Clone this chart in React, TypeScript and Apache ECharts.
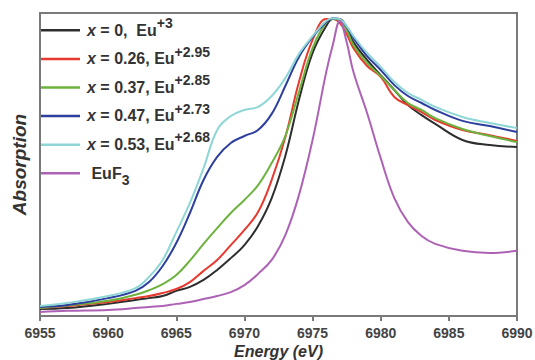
import React, { useEffect, useRef } from "react";
import * as echarts from "echarts";

const energies = [6955, 6957, 6960, 6962, 6963, 6964, 6965, 6966, 6967, 6968, 6969, 6970, 6971, 6972, 6973, 6974, 6975, 6976, 6976.5, 6977, 6977.5, 6978, 6979, 6980, 6981, 6982, 6983, 6984, 6986, 6988, 6990];

const blackVals = [0.023, 0.026, 0.040, 0.053, 0.059, 0.066, 0.083, 0.096, 0.119, 0.152, 0.191, 0.234, 0.297, 0.389, 0.528, 0.713, 0.868, 0.957, 0.980, 0.980, 0.950, 0.904, 0.845, 0.795, 0.746, 0.696, 0.663, 0.634, 0.581, 0.564, 0.558];
const redVals = [0.026, 0.033, 0.046, 0.059, 0.066, 0.076, 0.089, 0.112, 0.149, 0.185, 0.234, 0.284, 0.343, 0.449, 0.590, 0.772, 0.911, 0.980, 0.980, 0.967, 0.931, 0.884, 0.825, 0.789, 0.723, 0.696, 0.673, 0.647, 0.614, 0.597, 0.578];
const greenVals = [0.026, 0.035, 0.050, 0.070, 0.085, 0.105, 0.135, 0.183, 0.238, 0.290, 0.340, 0.383, 0.432, 0.505, 0.594, 0.739, 0.884, 0.970, 0.980, 0.977, 0.944, 0.894, 0.835, 0.792, 0.746, 0.703, 0.680, 0.653, 0.617, 0.594, 0.574];
const blueVals = [0.030, 0.036, 0.059, 0.083, 0.112, 0.165, 0.241, 0.340, 0.449, 0.525, 0.571, 0.594, 0.614, 0.667, 0.759, 0.855, 0.921, 0.970, 0.983, 0.980, 0.954, 0.917, 0.858, 0.812, 0.762, 0.726, 0.703, 0.680, 0.644, 0.627, 0.607];
const cyanVals = [0.033, 0.043, 0.066, 0.092, 0.129, 0.185, 0.277, 0.373, 0.488, 0.614, 0.660, 0.680, 0.690, 0.726, 0.785, 0.865, 0.924, 0.974, 0.983, 0.980, 0.957, 0.924, 0.868, 0.822, 0.772, 0.736, 0.713, 0.690, 0.657, 0.637, 0.620];
const euf3Vals = [0.013, 0.017, 0.020, 0.026, 0.030, 0.033, 0.040, 0.046, 0.056, 0.066, 0.079, 0.102, 0.139, 0.185, 0.267, 0.399, 0.581, 0.805, 0.898, 0.974, 0.904, 0.805, 0.670, 0.521, 0.389, 0.310, 0.264, 0.238, 0.215, 0.208, 0.215];

const compositions = ["0", "0.26", "0.37", "0.47", "0.53"];
const valences = ["+3", "+2.95", "+2.85", "+2.73", "+2.68"];
const sampleValues = [blackVals, redVals, greenVals, blueVals, cyanVals];
const colors = ["#2e2e2e", "#e8392f", "#6cb33e", "#2d3f9e", "#8fd6d6", "#ad62b5"];

const xTicks = [6955, 6960, 6965, 6970, 6975, 6980, 6985, 6990];

const FONT = "Liberation Sans";

export default function App() {
  const ref = useRef<HTMLDivElement>(null);

  useEffect(() => {
    if (!ref.current) return;
    const chart = echarts.init(ref.current, undefined, { renderer: "svg" });

    const names = compositions.map((c, i) => `x = ${c},${i === 0 ? "  " : " "}Eu${valences[i]}`);
    names.push("EuF3");
    const allVals = [...sampleValues, euf3Vals];

    const series = allVals.map((vals, i) => ({
      name: names[i],
      type: "line",
      data: energies.map((e, k) => [e, vals[k]]),
      smooth: 0.4,
      symbol: "none",
      lineStyle: { width: 2, color: colors[i] },
      itemStyle: { color: colors[i] },
    }));

    const legendFormatter = (name: string) => {
      const idx = names.indexOf(name);
      if (idx === 5) return "{t| EuF}{sub|3}";
      return `{i|x}{t| = ${compositions[idx]},${idx === 0 ? "  " : " "}Eu}{sup|${valences[idx]}}`;
    };

    chart.setOption({
      animation: false,
      backgroundColor: "#ffffff",
      grid: {
        left: 40,
        right: 18,
        top: 13,
        bottom: 44,
        show: true,
        borderColor: "#7a7a7a",
        borderWidth: 2,
        outerBoundsMode: "none",
        containLabel: false,
      },
      legend: {
        orient: "vertical",
        left: 41,
        top: 16,
        padding: 0,
        itemGap: 0,
        itemWidth: 39,
        itemHeight: 2.5,
        icon: "rect",
        data: names,
        formatter: legendFormatter,
        textStyle: {
          fontFamily: FONT,
          fontWeight: "bold",
          fontSize: 16,
          color: "#333",
          height: 28.6,
          lineHeight: 28,
          padding: [0, 0, 0, 2],
          rich: {
            i: { fontFamily: FONT, fontStyle: "italic", fontWeight: "bold", fontSize: 16, color: "#333", lineHeight: 28 },
            t: { fontFamily: FONT, fontWeight: "bold", fontSize: 16, color: "#333", lineHeight: 28 },
            sup: { fontFamily: FONT, fontWeight: "bold", fontSize: 14, color: "#333", lineHeight: 12, verticalAlign: "top" },
            sub: { fontFamily: FONT, fontWeight: "bold", fontSize: 14, color: "#333", lineHeight: 18, verticalAlign: "bottom" },
          },
        },
      },
      xAxis: {
        type: "value",
        min: 6955,
        max: 6990,
        interval: 5,
        name: "Energy (eV)",
        nameLocation: "middle",
        nameGap: 27,
        nameMoveOverlap: false,
        nameTextStyle: { fontFamily: FONT, fontWeight: "bold", fontStyle: "italic", fontSize: 16, lineHeight: 16, color: "#333" },
        axisLine: { show: true, lineStyle: { color: "#7a7a7a", width: 2 } },
        axisTick: { show: true, length: 5, lineStyle: { color: "#7a7a7a", width: 2 } },
        axisLabel: {
          fontFamily: FONT,
          fontWeight: "bold",
          fontSize: 14,
          lineHeight: 14,
          color: "#444",
          margin: 10,
          formatter: (v: number) => (xTicks.includes(v) ? String(v) : ""),
        },
        splitLine: { show: false },
      },
      yAxis: {
        type: "value",
        min: 0,
        max: 1,
        name: "Absorption",
        nameLocation: "middle",
        nameGap: 11,
        nameMoveOverlap: false,
        nameTextStyle: { fontFamily: FONT, fontWeight: "bold", fontStyle: "italic", fontSize: 19, color: "#333" },
        axisLine: { show: true, lineStyle: { color: "#7a7a7a", width: 2 } },
        axisTick: { show: false },
        axisLabel: { show: false },
        splitLine: { show: false },
      },
      series,
    });

    return () => chart.dispose();
  }, []);

  return <div ref={ref} style={{ position: "fixed", left: 0, top: 0, width: 535, height: 360, background: "#fff" }} />;
}
